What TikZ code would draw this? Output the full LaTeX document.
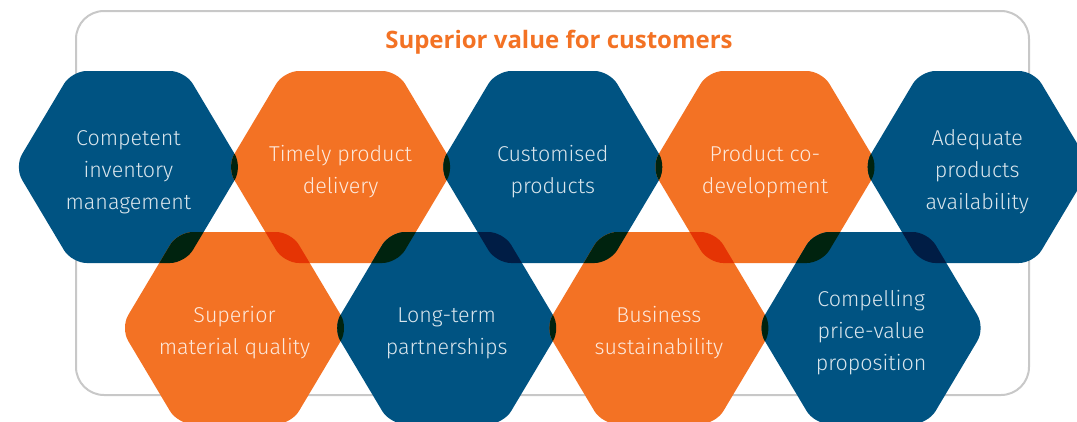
\documentclass[tikz,border=0pt]{standalone}
\usepackage{fontspec}
\setmainfont{Fira Sans}
\newfontfamily\lightfont{Fira Sans Light}
\newfontfamily\titlefont{Open Sans}
\definecolor{hexblue}{HTML}{005382}
\definecolor{hexorange}{HTML}{F37224}
\definecolor{ovgreen}{HTML}{00230F}
\definecolor{ovred}{HTML}{E53404}
\definecolor{ovnavy}{HTML}{001D45}
\definecolor{txtb}{HTML}{D9E5EC}
\definecolor{txto}{HTML}{FDE9DC}
\definecolor{boxgray}{HTML}{C8C8C8}
\newcommand\hexp[2]{(#1,#2-96) -- (#1+56.75,#2-96) -- (#1+114,#2) -- (#1+56.75,#2+96) -- (#1-56.75,#2+96) -- (#1-114,#2) -- (#1-56.75,#2-96) -- cycle}
\newcommand\ovlap[5]{\begin{scope}\clip[hexround] \hexp{#1}{#2}; \fill[#5, hexround] \hexp{#3}{#4};\end{scope}}
\tikzset{
  hexround/.style={rounded corners=15pt},
  hextext/.style={align=center, inner sep=0pt, font=\lightfont\fontsize{21.5}{32}\selectfont},
  titletext/.style={inner sep=0pt, text=hexorange, font=\titlefont\bfseries\fontsize{24}{28}\selectfont},
  outerbox/.style={draw=boxgray, line width=2pt, rounded corners=28pt}
}
\begin{document}
\begin{tikzpicture}[x=1pt,y=-1pt]
\useasboundingbox (0,0) rectangle (1077,421);
\clip (0,0) rectangle (1077,421);
\draw[outerbox] (76,11) rectangle (1029,395);
\node[titletext, anchor=base] (title) at (559,48) {Superior value for customers};
% top row
\fill[hexblue, hexround] \hexp{128.4}{167};
\fill[hexorange, hexround] \hexp{340.6}{167};
\fill[hexblue, hexround] \hexp{552.8}{167};
\fill[hexorange, hexround] \hexp{765}{167};
\fill[hexblue, hexround] \hexp{977.2}{167};
% bottom row
\fill[hexorange, hexround] \hexp{234.5}{328};
\fill[hexblue, hexround] \hexp{446.7}{328};
\fill[hexorange, hexround] \hexp{658.9}{328};
\fill[hexblue, hexround] \hexp{871.1}{328};
% overlaps top row
\ovlap{128.4}{167}{340.6}{167}{ovgreen}
\ovlap{340.6}{167}{552.8}{167}{ovgreen}
\ovlap{552.8}{167}{765}{167}{ovgreen}
\ovlap{765}{167}{977.2}{167}{ovgreen}
% overlaps bottom row
\ovlap{234.5}{328}{446.7}{328}{ovgreen}
\ovlap{446.7}{328}{658.9}{328}{ovgreen}
\ovlap{658.9}{328}{871.1}{328}{ovgreen}
% overlaps between rows
\ovlap{234.5}{328}{128.4}{167}{ovgreen}
\ovlap{234.5}{328}{340.6}{167}{ovred}
\ovlap{446.7}{328}{340.6}{167}{ovgreen}
\ovlap{446.7}{328}{552.8}{167}{ovnavy}
\ovlap{658.9}{328}{552.8}{167}{ovgreen}
\ovlap{658.9}{328}{765}{167}{ovred}
\ovlap{871.1}{328}{765}{167}{ovgreen}
\ovlap{871.1}{328}{977.2}{167}{ovnavy}
% texts
\node[hextext, text=txtb] (t1) at (128.4,172) {Competent\\inventory\\management};
\node[hextext, text=txto] (t2) at (340.6,172) {Timely product\\delivery};
\node[hextext, text=txtb] (t3) at (552.8,172) {Customised\\products};
\node[hextext, text=txto] (t4) at (765,172) {Product co-\\development};
\node[hextext, text=txtb] (t5) at (977.2,172) {Adequate\\products\\availability};
\node[hextext, text=txto] (b1) at (234.5,333) {Superior\\material quality};
\node[hextext, text=txtb] (b2) at (446.7,333) {Long-term\\partnerships};
\node[hextext, text=txto] (b3) at (658.9,333) {Business\\sustainability};
\node[hextext, text=txtb] (b4) at (871.1,333) {Compelling\\price-value\\proposition};
\end{tikzpicture}
\end{document}
